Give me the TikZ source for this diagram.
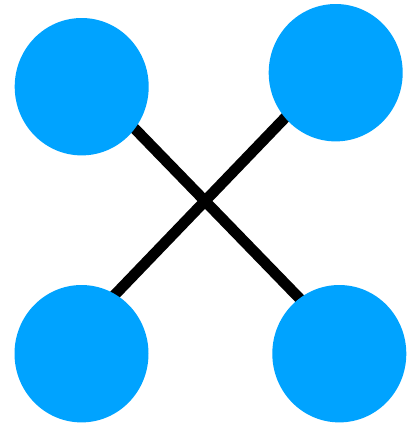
\documentclass[tikz,border=0pt]{standalone}
\usetikzlibrary{shapes.geometric}
\definecolor{dotblue}{RGB}{0,163,255}
\tikzset{
  dot/.style={ellipse, fill=dotblue, draw=none, inner sep=0pt, minimum width=134pt, minimum height=137.4pt},
  bar/.style={draw=black, line width=10.8pt}
}
\begin{document}
\begin{tikzpicture}[x=1pt,y=-1pt]
\useasboundingbox (0,0) rectangle (411,424);
\coordinate (a1) at (100,92.9);
\coordinate (a2) at (320,319.5);
\coordinate (b1) at (320,81.4);
\coordinate (b2) at (100,310.2);
\draw[bar] (a1) -- (a2);
\draw[bar] (b1) -- (b2);
\node[dot] (tl) at (81.7,86.7) {};
\node[dot] (tr) at (335.7,72.7) {};
\node[dot] (bl) at (81.5,353.7) {};
\node[dot] (br) at (339.3,353.7) {};
\end{tikzpicture}
\end{document}
